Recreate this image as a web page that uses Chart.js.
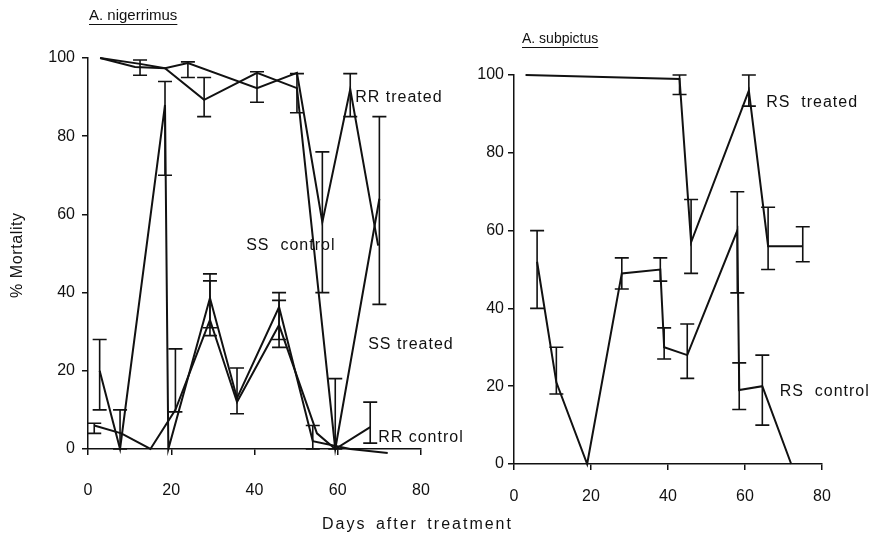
<!DOCTYPE html>
<html>
<head>
<meta charset="utf-8">
<script src="https://cdn.jsdelivr.net/npm/chart.js@4.4.1/dist/chart.umd.min.js"></script>
<style>
  html,body{margin:0;padding:0;background:#fff;}
  #wrap{position:relative;width:870px;height:539px;overflow:hidden;font-family:"Liberation Sans",Arial,Helvetica,sans-serif;color:#111;}
  canvas{position:absolute;left:0;top:0;}
  .t{position:absolute;white-space:nowrap;font-size:15px;line-height:1;}
  .u{text-decoration:underline;text-underline-offset:4px;}
</style>
</head>
<body>
<div id="wrap">
  <canvas id="c1" width="870" height="539"></canvas>
  <canvas id="c2" width="870" height="539"></canvas>
  <div class="t u" style="left:89px;top:7px;">A. nigerrimus</div>
  <div class="t u" style="left:522px;top:31px;font-size:14px;">A. subpictus</div>
  <div class="t" style="left:9px;top:298px;font-size:16px;transform-origin:0 0;transform:rotate(-90deg);letter-spacing:0.6px;">% Mortality</div>
  <div class="t" style="left:322px;top:516px;font-size:16px;letter-spacing:2px;word-spacing:3px;">Days after treatment</div>
</div>
<script>
// ---------- A. nigerrimus (left panel) ----------
const rrTreatedDays = [2.9, 12.5, 18.5, 24, 40.6, 50.2, 56.3, 63, 69.7];
const rrTreatedVals = [100, 98.5, 97.4, 98.7, 92.3, 96.2, 58, 92, 52];
const rrTreatedLo   = [null, 95.6, null, 95, 88.7, null, 40, 85, null];
const rrTreatedHi   = [null, 99.5, null, 99, 96.5, null, 76, 96, null];

const ssTreatedDays = [2.9, 11.3, 18.5, 27.9, 40.6, 50.2, 59.4, 70];
const ssTreatedVals = [100, 97.7, 97.4, 89.3, 96.2, 92.3, 0, 64];
const ssTreatedLo   = [null, null, null, 85, null, 86, null, 37];
const ssTreatedHi   = [null, null, null, 95, null, 96, null, 85];

const ssControlDays = [2.8, 7.7, 18.5, 19.3, 29.3, 35.8, 45.9, 54, 63, 72];
const ssControlVals = [20, 0, 88, 0, 38.6, 13, 36.3, 2, 0, -1];
const ssControlLo   = [10, 0, 70, null, 31, 9, 28, 0, null, null];
const ssControlHi   = [28, 10, 94, null, 44.8, 20.7, 40, 6, null, null];

const rrControlDays = [1.5, 8, 15, 21, 29.3, 35.8, 45.9, 55, 59.4, 67.8];
const rrControlVals = [6, 4, 0, 10, 33, 12, 31.7, 4, 0, 5.6];
const rrControlLo   = [4, null, null, 9.5, 29, null, 26, null, 0, 1.5];
const rrControlHi   = [6.6, null, null, 25.6, 43, null, 38, null, 18, 12];

// ---------- A. subpictus (right panel) ----------
const rsTreatedDays = [3, 43, 46, 61, 66, 75];
const rsTreatedVals = [100, 99, 57, 96, 56, 56];
const rsTreatedLo   = [null, 95, 49, 92, 50, 52];
const rsTreatedHi   = [null, 100, 68, 100, 66, 61];

const rsControlDays = [6, 11, 19, 28, 38, 39, 45, 58, 58.5, 64.5, 72];
const rsControlVals = [52, 21, 0, 49, 50, 30, 28, 60, 19, 20, 0];
const rsControlLo   = [40, 18, null, 45, 47, 27, 22, 44, 14, 10, null];
const rsControlHi   = [60, 30, null, 53, 53, 35, 36, 70, 26, 28, null];

// axis ticks
const xTicks = [0, 20, 40, 60, 80];
const yTicks = [0, 20, 40, 60, 80, 100];

// series label annotations [text, day, value]
const leftLabels  = [["RR treated", 64.2, 90], ["SS  control", 38, 52], ["SS treated", 67.3, 26.6], ["RR control", 69.7, 3]];
const rightLabels = [["RS  treated", 65.5, 93], ["RS  control", 69, 18.5]];

const INK = '#111';
const FONT = '"Liberation Sans", Arial, Helvetica, sans-serif';

function series(days, vals, lo, hi) {
  return {
    data: days.map((d, i) => ({x: d, y: vals[i]})),
    lo: lo, hi: hi,
    borderColor: INK, borderWidth: 2, pointRadius: 0, fill: false, tension: 0,
    clip: false
  };
}

const errorBarPlugin = {
  id: 'errbars',
  afterDatasetsDraw(chart) {
    const ctx = chart.ctx, xs = chart.scales.x, ys = chart.scales.y;
    ctx.save();
    ctx.strokeStyle = INK; ctx.lineWidth = 1.6;
    chart.data.datasets.forEach(ds => {
      ds.data.forEach((p, i) => {
        const lo = ds.lo[i], hi = ds.hi[i];
        if (lo == null || hi == null) return;
        const px = xs.getPixelForValue(p.x);
        const y1 = ys.getPixelForValue(lo), y2 = ys.getPixelForValue(hi);
        ctx.beginPath();
        ctx.moveTo(px, y1); ctx.lineTo(px, y2);
        ctx.moveTo(px - 7, y1); ctx.lineTo(px + 7, y1);
        ctx.moveTo(px - 7, y2); ctx.lineTo(px + 7, y2);
        ctx.stroke();
      });
    });
    ctx.restore();
  }
};

const labelPlugin = {
  id: 'seriesLabels',
  afterDraw(chart, args, opts) {
    const ctx = chart.ctx, xs = chart.scales.x, ys = chart.scales.y;
    ctx.save();
    ctx.fillStyle = INK;
    ctx.font = '16px ' + FONT;
    ctx.textBaseline = 'middle'; ctx.textAlign = 'left';
    if (ctx.letterSpacing !== undefined) ctx.letterSpacing = '1px';
    (opts.items || []).forEach(([t, d, v]) => {
      ctx.fillText(t, xs.getPixelForValue(d), ys.getPixelForValue(v));
    });
    ctx.restore();
  }
};

function makeChart(id, datasets, pad, xPad, yPad, labels) {
  return new Chart(document.getElementById(id), {
    type: 'line',
    data: { datasets },
    plugins: [errorBarPlugin, labelPlugin],
    options: {
      responsive: false, animation: false,
      layout: { padding: pad },
      plugins: { legend: {display: false}, tooltip: {enabled: false}, seriesLabels: {items: labels} },
      scales: {
        x: {
          type: 'linear', min: 0, max: 80,
          afterBuildTicks: s => { s.ticks = xTicks.map(v => ({value: v})); },
          afterFit: s => { s.height = 60; },
          ticks: { color: INK, font: {size: 16, family: FONT}, padding: xPad, maxRotation: 0 },
          grid: { display: true, drawOnChartArea: false, drawTicks: true, tickLength: 6, color: INK, lineWidth: 1.5 },
          border: { display: true, color: INK, width: 1.5 }
        },
        y: {
          type: 'linear', min: 0, max: 100,
          afterBuildTicks: s => { s.ticks = yTicks.map(v => ({value: v})); },
          afterFit: s => { s.width = 40; },
          ticks: { color: INK, font: {size: 16, family: FONT}, padding: yPad },
          grid: { display: true, drawOnChartArea: false, drawTicks: true, tickLength: 6, color: INK, lineWidth: 1.5 },
          border: { display: true, color: INK, width: 1.5 }
        }
      }
    }
  });
}

makeChart('c1', [
  series(rrTreatedDays, rrTreatedVals, rrTreatedLo, rrTreatedHi),
  series(ssTreatedDays, ssTreatedVals, ssTreatedLo, ssTreatedHi),
  series(ssControlDays, ssControlVals, ssControlLo, ssControlHi),
  series(rrControlDays, rrControlVals, rrControlLo, rrControlHi)
], {left: 48, right: 449, top: 58, bottom: 30}, 26, 7, leftLabels);

makeChart('c2', [
  series(rsTreatedDays, rsTreatedVals, rsTreatedLo, rsTreatedHi),
  series(rsControlDays, rsControlVals, rsControlLo, rsControlHi)
], {left: 474, right: 48, top: 75, bottom: 15}, 17, 4, rightLabels);
</script>
</body>
</html>
